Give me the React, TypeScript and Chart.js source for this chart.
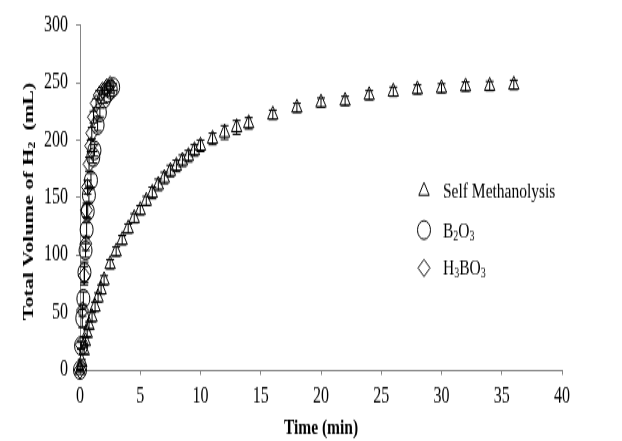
import React, { useEffect, useRef } from 'react';
import { Chart, registerables } from 'chart.js';

Chart.register(...registerables);

// ---------- data ----------
const selfTime = [0, 0.15, 0.35, 0.45, 0.6, 0.75, 1, 1.25, 1.5, 1.75, 2, 2.5, 3, 3.5, 4, 4.5, 5, 5.5, 6, 6.5, 7, 7.5, 8, 8.5, 9, 9.5, 10, 11, 12, 13, 14, 16, 18, 20, 22, 24, 26, 28, 30, 32, 34, 36];
const selfVolume = [0, 7, 17, 25, 32, 39, 46, 55, 63, 70, 78, 92, 103, 113, 123, 132, 139, 147, 154, 161, 167, 173, 177.5, 182, 186, 191, 195, 201, 206.5, 211, 214.5, 222, 228, 232.5, 234, 239, 242, 244, 245, 246.5, 247, 248];
const selfError = [1, 2, 3, 3, 3, 3, 4, 4, 4, 4, 4, 4, 4, 4, 4, 4, 4, 4, 5, 5, 5, 5, 5, 5, 5, 5, 5, 5, 6, 6, 5, 4, 4, 4, 4, 4, 4, 4, 4, 4, 4, 4];

const b2o3Time = [0, 0.09, 0.19, 0.28, 0.37, 0.46, 0.55, 0.64, 0.74, 0.91, 1.1, 1.2, 1.46, 1.65, 2.0, 2.3, 2.55, 2.75];
const b2o3Volume = [0, 21, 45, 62, 85, 104, 122, 138, 152, 165, 185, 191, 213, 224, 236, 241, 244, 246];
const b2o3Error = [1, 3, 8, 6, 9, 6, 6, 6, 6, 6, 5, 5, 5, 4, 4, 3, 3, 3];

const h3bo3Time = [0, 0.1, 0.21, 0.35, 0.48, 0.54, 0.62, 0.75, 0.89, 0.98, 1.12, 1.34, 1.6, 1.87, 2.22, 2.5];
const h3bo3Volume = [0, 22, 52, 82, 110, 139, 159, 179, 195, 206, 220, 232, 239, 243, 246, 248];
const h3bo3Error = [1, 3, 5, 8, 6, 6, 6, 6, 5, 5, 5, 4, 4, 3, 3, 3];

const xTickValues = [0, 5, 10, 15, 20, 25, 30, 35, 40];
const yTickValues = [0, 50, 100, 150, 200, 250, 300];

const xTitle = 'Time (min)';
// [text, isSubscript]
const yTitleParts: [string, boolean][] = [['Total Volume of H', false], ['2', true], ['  (mL)', false]];
const seriesNames = ['Self Methanolysis', 'B2O3', 'H3BO3'];
const legendParts: [string, boolean][][] = [
  [['Self Methanolysis', false]],
  [['B', false], ['2', true], ['O', false], ['3', true]],
  [['H', false], ['3', true], ['BO', false], ['3', true]],
];
const legendShapes = ['triangle', 'circle', 'rectRot'];

// ---------- layout ----------
const OUT_W = 622;
const OUT_H = 441;
const DESIGN_H = 310; // canvas is drawn at this height and stretched vertically
const SY = OUT_H / DESIGN_H;
const py = (v: number) => v / SY; // final-pixel y -> design y

const PLOT_LEFT = 80;
const PLOT_RIGHT = 562;
const PLOT_TOP = py(18);
const PLOT_BOTTOM = py(370);
const SERIF = "'Liberation Serif', 'Times New Roman', serif";
const AXIS_GREY = '#868686';

function drawParts(ctx: CanvasRenderingContext2D, parts: [string, boolean][], x: number, y: number, size: number, bold: boolean, center: boolean) {
  const w = bold ? 'bold ' : '';
  const subSize = Math.round(size * 0.65);
  let total = 0;
  for (const [t, sub] of parts) {
    ctx.font = `${w}${sub ? subSize : size}px ${SERIF}`;
    total += ctx.measureText(t).width;
  }
  let cx = center ? x - total / 2 : x;
  for (const [t, sub] of parts) {
    ctx.font = `${w}${sub ? subSize : size}px ${SERIF}`;
    ctx.fillText(t, cx, sub ? y + size * 0.22 : y);
    cx += ctx.measureText(t).width;
  }
}

function drawShape(ctx: CanvasRenderingContext2D, shape: string, x: number, y: number, r: number) {
  ctx.beginPath();
  if (shape === 'circle') {
    ctx.arc(x, y, r, 0, Math.PI * 2);
  } else if (shape === 'triangle') {
    const a = Math.PI * 2 / 3;
    ctx.moveTo(x, y - r);
    ctx.lineTo(x + Math.sin(a) * r, y - Math.cos(a) * r);
    ctx.lineTo(x + Math.sin(2 * a) * r, y - Math.cos(2 * a) * r);
    ctx.closePath();
  } else {
    ctx.moveTo(x - r, y);
    ctx.lineTo(x, y - r);
    ctx.lineTo(x + r, y);
    ctx.lineTo(x, y + r);
    ctx.closePath();
  }
  ctx.stroke();
}

const errorBarPlugin = {
  id: 'errorBars',
  afterDatasetsDraw(chart: any) {
    const { ctx, scales } = chart;
    const xs = scales.x;
    const ys = scales.y;
    ctx.save();
    ctx.strokeStyle = '#000';
    ctx.lineWidth = 1;
    chart.data.datasets.forEach((ds: any) => {
      const errs: number[] = ds.errors;
      if (!errs) return;
      ds.data.forEach((pt: any, i: number) => {
        const e = errs[i];
        if (!e) return;
        const cx = xs.getPixelForValue(pt.x);
        const y1 = ys.getPixelForValue(pt.y + e);
        const y2 = ys.getPixelForValue(pt.y - e);
        ctx.beginPath();
        ctx.moveTo(cx, y1); ctx.lineTo(cx, y2);
        ctx.moveTo(cx - 4, y1); ctx.lineTo(cx + 4, y1);
        ctx.moveTo(cx - 4, y2); ctx.lineTo(cx + 4, y2);
        ctx.stroke();
      });
    });
    ctx.restore();
  },
};

const annotationsPlugin = {
  id: 'customText',
  afterDraw(chart: any) {
    const { ctx, chartArea } = chart;
    ctx.save();
    ctx.fillStyle = '#000';
    ctx.strokeStyle = '#000';
    ctx.lineWidth = 1;
    // y title (rotated, with subscript)
    ctx.save();
    ctx.translate(29, (chartArea.top + chartArea.bottom) / 2 + py(4));
    ctx.rotate(-Math.PI / 2);
    ctx.textBaseline = 'middle';
    ctx.textAlign = 'left';
    drawParts(ctx, yTitleParts, 0, 0, 15.5, true, true);
    ctx.restore();
    // legend
    const rows = [py(191), py(230), py(268)];
    ctx.textBaseline = 'middle';
    ctx.textAlign = 'left';
    legendParts.forEach((parts, i) => {
      const shape = legendShapes[i];
      drawShape(ctx, shape, 424, rows[i], shape === 'triangle' ? 6 : shape === 'circle' ? 6.5 : 6);
      drawParts(ctx, parts, 443, rows[i] + 1, 15.5, false, false);
    });
    ctx.restore();
  },
};

export default function App() {
  const canvasRef = useRef<HTMLCanvasElement | null>(null);

  useEffect(() => {
    document.body.style.margin = '0';
    const canvas = canvasRef.current;
    if (!canvas) return;
    const toPoints = (xs: number[], ys: number[]) => xs.map((x, i) => ({ x, y: ys[i] }));
    const common = {
      borderColor: '#000',
      backgroundColor: 'rgba(0,0,0,0)',
      borderWidth: 1,
      showLine: false,
      clip: false,
    };
    const chart = new Chart(canvas, {
      type: 'scatter',
      data: {
        datasets: [
          { ...common, label: seriesNames[0], data: toPoints(selfTime, selfVolume), errors: selfError, pointStyle: 'triangle', pointRadius: 6 } as any,
          { ...common, label: seriesNames[1], data: toPoints(b2o3Time, b2o3Volume), errors: b2o3Error, pointStyle: 'circle', pointRadius: 6.5 } as any,
          { ...common, label: seriesNames[2], data: toPoints(h3bo3Time, h3bo3Volume), errors: h3bo3Error, pointStyle: 'rectRot', pointRadius: 6 } as any,
        ],
      },
      options: {
        responsive: false,
        animation: false,
        events: [],
        layout: { padding: { left: 0, right: OUT_W - PLOT_RIGHT, top: PLOT_TOP, bottom: 0 } },
        plugins: { legend: { display: false }, tooltip: { enabled: false } },
        scales: {
          x: {
            type: 'linear',
            min: 0,
            max: 40,
            afterBuildTicks: (s: any) => { s.ticks = xTickValues.map((v) => ({ value: v })); },
            afterFit: (s: any) => { s.height = DESIGN_H - PLOT_BOTTOM; },
            grid: { drawOnChartArea: false, drawTicks: true, tickLength: 3.5, color: AXIS_GREY, lineWidth: 1 },
            border: { display: true, color: AXIS_GREY, width: 1 },
            ticks: { color: '#000', font: { family: SERIF, size: 16 }, padding: 5.5, maxRotation: 0 },
            title: { display: true, text: xTitle, color: '#000', font: { family: SERIF, size: 15.5, weight: 'bold' }, padding: { top: 0, bottom: 0 } },
          },
          y: {
            type: 'linear',
            min: 0,
            max: 300,
            afterBuildTicks: (s: any) => { s.ticks = yTickValues.map((v) => ({ value: v })); },
            afterFit: (s: any) => { s.width = PLOT_LEFT; },
            grid: { drawOnChartArea: false, drawTicks: true, tickLength: 4, color: AXIS_GREY, lineWidth: 1 },
            border: { display: true, color: AXIS_GREY, width: 1 },
            ticks: { color: '#000', font: { family: SERIF, size: 16 }, padding: 8 },
          },
        },
      } as any,
      plugins: [errorBarPlugin, annotationsPlugin],
    });
    return () => chart.destroy();
  }, []);

  return (
    <div style={{ width: OUT_W, height: OUT_H, overflow: 'hidden', position: 'relative', background: '#fff' }}>
      <div style={{ width: OUT_W, height: DESIGN_H, transform: `scale(1, ${SY})`, transformOrigin: '0 0' }}>
        <canvas ref={canvasRef} width={OUT_W} height={DESIGN_H} />
      </div>
    </div>
  );
}
